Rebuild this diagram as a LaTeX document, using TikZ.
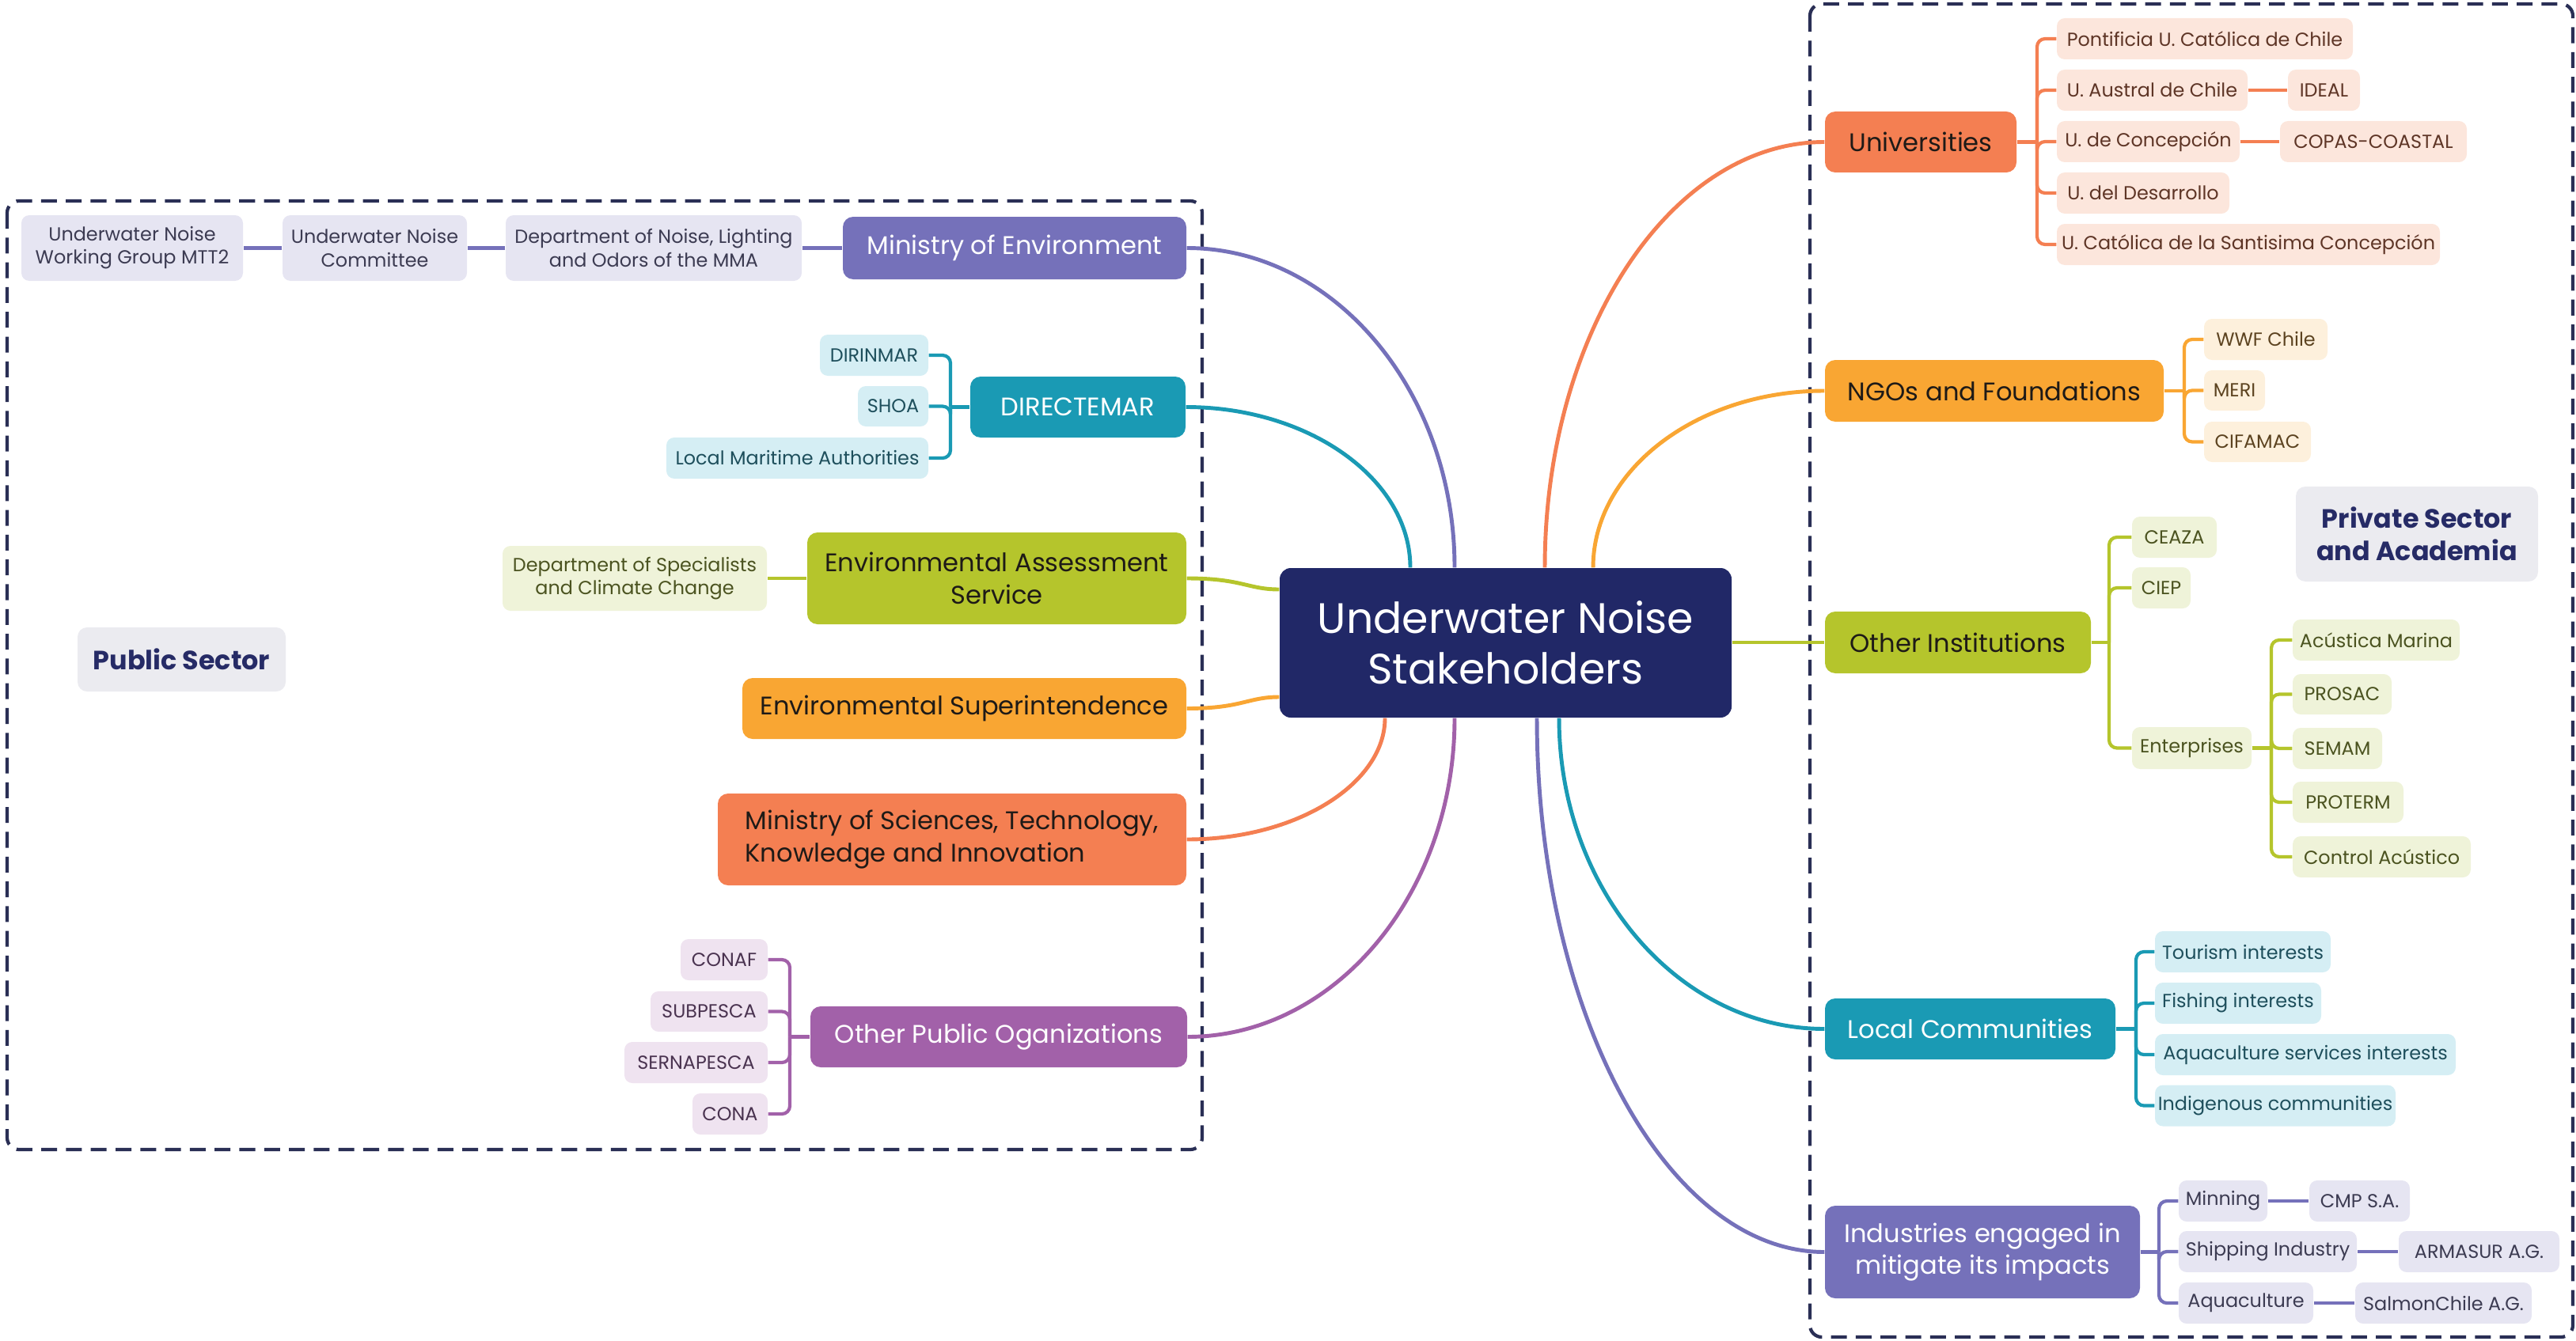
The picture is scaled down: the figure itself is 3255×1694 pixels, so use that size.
\documentclass[tikz,border=0pt]{standalone}
\usepackage{fontspec}
\setmainfont{Poppins}
\usetikzlibrary{calc}
\pgfdeclarelayer{bg}
\pgfsetlayers{bg,main}
\definecolor{navy}{HTML}{212867}
\definecolor{cPur}{HTML}{7571BA}
\definecolor{lPur}{HTML}{E6E5F2}
\definecolor{tPur}{HTML}{3C3B52}
\definecolor{cTeal}{HTML}{1A9AB4}
\definecolor{lTeal}{HTML}{D5EEF4}
\definecolor{tTeal}{HTML}{1E4F5C}
\definecolor{cGrn}{HTML}{B5C52C}
\definecolor{lGrn}{HTML}{EFF3D9}
\definecolor{tGrn}{HTML}{4B5320}
\definecolor{cOra}{HTML}{F9A633}
\definecolor{lOra}{HTML}{FDF0DC}
\definecolor{tOra}{HTML}{5C4320}
\definecolor{cRed}{HTML}{F47F52}
\definecolor{lRed}{HTML}{FCE6DC}
\definecolor{tRed}{HTML}{5E3526}
\definecolor{cMag}{HTML}{A261A9}
\definecolor{lMag}{HTML}{EFE3F0}
\definecolor{tMag}{HTML}{4A3350}
\definecolor{tagbg}{HTML}{EBEBF0}
\definecolor{tagtx}{HTML}{262B66}
\definecolor{dark}{HTML}{1E1A17}
\definecolor{dash}{HTML}{2A2F55}
\begin{document}
\begin{tikzpicture}[x=0.01cm,y=-0.01cm,
  sz/.style 2 args={minimum width=#1*0.01cm,minimum height=#2*0.01cm},
  boxbase/.style={rectangle,inner sep=0pt,align=center},
  topic/.style={boxbase,rounded corners=0.13cm,font=\fontsize{9.15}{11.5}\selectfont},
  leaf/.style={boxbase,rounded corners=0.1cm,font=\fontsize{6.8}{8.3}\selectfont},
  leafP/.style={leaf,fill=lPur,text=tPur},
  leafT/.style={leaf,fill=lTeal,text=tTeal},
  leafG/.style={leaf,fill=lGrn,text=tGrn},
  leafO/.style={leaf,fill=lOra,text=tOra},
  leafR/.style={leaf,fill=lRed,text=tRed},
  leafM/.style={leaf,fill=lMag,text=tMag},
  tag/.style={boxbase,rounded corners=0.12cm,fill=tagbg,text=tagtx,font=\fontsize{9.5}{11.7}\selectfont\bfseries},
  curve/.style={line width=1.4pt},
  link/.style={line width=1.2pt},
  brk/.style={line width=1.2pt,rounded corners=0.1cm},
  region/.style={draw=dash,line width=1.2pt,dash pattern=on 5.7pt off 3.2pt,rounded corners=0.15cm}
]
\useasboundingbox (0,0) rectangle (3255,1694);

% central node
\node[boxbase,rounded corners=0.14cm,fill=navy,text=white,sz={571}{189},font=\fontsize{15.3}{18.2}\selectfont] (ctr) at (1902.5,812.5) {Underwater Noise\\Stakeholders};

% ---------- Public sector ----------
\node[topic,fill=cPur,text=white,sz={434}{79}] (menv) at (1282,313.5) {Ministry of Environment};
\node[leafP,sz={374}{83}] (dept) at (826,313.5) {Department of Noise, Lighting\\and Odors of the MMA};
\node[leafP,sz={233}{83}] (comm) at (473.5,313.5) {Underwater Noise\\Committee};
\node[leafP,sz={280}{83}] (wg) at (167,313.5) {Underwater Noise\\Working Group MTT2};

\node[topic,fill=cTeal,text=white,sz={272}{77}] (dir) at (1362,514.5) {DIRECTEMAR};
\node[leafT,sz={137}{52}] (dirin) at (1104.5,449) {DIRINMAR};
\node[leafT,sz={89}{51}] (shoa) at (1128.5,513.5) {SHOA};
\node[leafT,sz={331}{52}] (lma) at (1007.5,579) {Local Maritime Authorities};

\node[topic,fill=cGrn,text=dark,sz={479}{116}] (easv) at (1259.5,731) {Environmental Assessment\\Service};
\node[leafG,sz={334}{82}] (dsc) at (802,731) {Department of Specialists\\and Climate Change};

\node[topic,fill=cOra,text=dark,sz={561}{77}] (esup) at (1218.5,895.5) {Environmental Superintendence};

\node[topic,fill=cRed,text=dark,sz={592}{116},align=left] (msci) at (1203,1061) {Ministry of Sciences, Technology,\\Knowledge and Innovation};

\node[topic,fill=cMag,text=white,sz={476}{77}] (opo) at (1262,1310.5) {Other Public Oganizations};
\node[leafM,sz={110}{52}] (conaf) at (915,1213) {CONAF};
\node[leafM,sz={148}{51}] (subp) at (896,1278.5) {SUBPESCA};
\node[leafM,sz={181}{52}] (sern) at (879.5,1343) {SERNAPESCA};
\node[leafM,sz={95}{52}] (cona) at (922.5,1408) {CONA};

\node[tag,sz={263}{81}] (pub) at (229.5,833.5) {Public Sector};

% ---------- Private sector and academia ----------
\node[topic,fill=cRed,text=dark,sz={242}{77}] (univ) at (2427,179.5) {Universities};
\node[leafR,sz={374}{52}] (puc) at (2786,49) {Pontificia U. Católica de Chile};
\node[leafR,sz={241}{52}] (uac) at (2719.5,114) {U. Austral de Chile};
\node[leafR,sz={91}{52}] (ideal) at (2936.5,114) {IDEAL};
\node[leafR,sz={231}{52}] (udec) at (2714.5,179) {U. de Concepción};
\node[leafR,sz={236}{52}] (copas) at (2999,179) {COPAS-COASTAL};
\node[leafR,sz={218}{52}] (udd) at (2708,244) {U. del Desarrollo};
\node[leafR,sz={484}{52}] (ucsc) at (2841,309) {U. Católica de la Santisima Concepción};

\node[topic,fill=cOra,text=dark,sz={428}{78}] (ngo) at (2520,494) {NGOs and Foundations};
\node[leafO,sz={156}{52}] (wwf) at (2863,429) {WWF Chile};
\node[leafO,sz={77}{51}] (meri) at (2823.5,493.5) {MERI};
\node[leafO,sz={135}{51}] (cifa) at (2852.5,558.5) {CIFAMAC};

\node[tag,sz={306}{120}] (priv) at (3054,675) {Private Sector\\and Academia};

\node[topic,fill=cGrn,text=dark,sz={336}{78}] (oth) at (2474,812) {Other Institutions};
\node[leafG,sz={107}{52}] (ceaza) at (2747.5,679) {CEAZA};
\node[leafG,sz={74}{52}] (ciep) at (2731,743) {CIEP};
\node[leafG,sz={151}{53}] (ent) at (2769.5,945.5) {Enterprises};
\node[leafG,sz={211}{52}] (acm) at (3002.5,809) {Acústica Marina};
\node[leafG,sz={125}{51}] (prosac) at (2959.5,877.5) {PROSAC};
\node[leafG,sz={113}{52}] (semam) at (2953.5,946) {SEMAM};
\node[leafG,sz={140}{52}] (proterm) at (2967,1014) {PROTERM};
\node[leafG,sz={225}{52}] (ctrl) at (3009.5,1083) {Control Acústico};

\node[topic,fill=cTeal,text=white,sz={367}{77}] (loc) at (2489.5,1300.5) {Local Communities};
\node[leafT,sz={222}{52}] (tour) at (2834,1203) {Tourism interests};
\node[leafT,sz={210}{52}] (fish) at (2828,1268) {Fishing interests};
\node[leafT,sz={380}{52}] (aqs) at (2913,1333) {Aquaculture services interests};
\node[leafT,sz={304}{52}] (indg) at (2875,1397.5) {Indigenous communities};

\node[topic,fill=cPur,text=white,sz={398}{117}] (ind) at (2505,1582.5) {Industries engaged in\\mitigate its impacts};
\node[leafP,sz={112}{52}] (min) at (2809,1518) {Minning};
\node[leafP,sz={127}{52}] (cmp) at (2981.5,1518) {CMP S.A.};
\node[leafP,sz={225}{52}] (ship) at (2865.5,1582) {Shipping Industry};
\node[leafP,sz={203}{52}] (arma) at (3132.5,1582) {ARMASUR A.G.};
\node[leafP,sz={170}{52}] (aqu) at (2838,1647) {Aquaculture};
\node[leafP,sz={223}{52}] (salm) at (3087.5,1647) {SalmonChile A.G.};

% bracket junctions
\coordinate (kD) at (1201,0 |- dir.west);
\coordinate (kO) at (998,0 |- opo.west);
\coordinate (kU) at (2574,0 |- univ.east);
\coordinate (kN) at (2760,0 |- ngo.east);
\coordinate (kI) at (2665,0 |- oth.east);
\coordinate (kE) at (2870,0 |- ent.east);
\coordinate (kL) at (2699,0 |- loc.east);
\coordinate (kX) at (2728,0 |- ind.east);

\begin{pgfonlayer}{bg}
% region frames
\draw[region] (9,254) rectangle (1519,1453);
\draw[region] (2287,5) rectangle (3251,1690);

% main curves, left
\draw[curve,cPur] (menv.east) .. controls +(186,0) and +(0,-223) .. (1838,0 |- ctr.north);
\draw[curve,cTeal] (dir.east) .. controls +(155,0) and +(0,-112) .. (1782,0 |- ctr.north);
\draw[curve,cGrn] (easv.east) .. controls +(70,0) and +(-40,0) .. (ctr.west |- 0,745);
\draw[curve,cOra] (esup.east) .. controls +(70,0) and +(-40,0) .. (ctr.west |- 0,881);
\draw[curve,cRed] (msci.east) .. controls +(140,0) and +(0,82) .. (1750,0 |- ctr.south);
\draw[curve,cMag] (opo.east) .. controls +(186,0) and +(0,222) .. (1838,0 |- ctr.south);
% main curves, right
\draw[curve,cRed] (1952,0 |- ctr.north) .. controls +(0,-296) and +(-195,0) .. (univ.west);
\draw[curve,cOra] (2013,0 |- ctr.north) .. controls +(0,-123) and +(-161,0) .. (ngo.west);
\draw[curve,cGrn] (ctr.east |- oth.west) -- (oth.west);
\draw[curve,cTeal] (1970,0 |- ctr.south) .. controls +(0,216) and +(-185,0) .. (loc.west);
\draw[curve,cPur] (1942,0 |- ctr.south) .. controls +(0,371) and +(-200,0) .. (ind.west);

% chains
\draw[link,cPur] (menv.west) -- (dept.east);
\draw[link,cPur] (dept.west) -- (comm.east);
\draw[link,cPur] (comm.west) -- (wg.east);
\draw[link,cGrn] (easv.west) -- (dsc.east);

% DIRECTEMAR
\draw[link,cTeal] (dir.west) -- (kD);
\draw[brk,cTeal] (kD) |- (dirin.east);
\draw[brk,cTeal] (kD) |- (shoa.east);
\draw[brk,cTeal] (kD) |- (lma.east);
% Other public
\draw[link,cMag] (opo.west) -- (kO);
\draw[brk,cMag] (kO) |- (conaf.east);
\draw[brk,cMag] (kO) |- (subp.east);
\draw[brk,cMag] (kO) |- (sern.east);
\draw[brk,cMag] (kO) |- (cona.east);
% Universities
\draw[link,cRed] (univ.east) -- (kU);
\draw[brk,cRed] (kU) |- (puc.west);
\draw[brk,cRed] (kU) |- (uac.west);
\draw[brk,cRed] (kU) |- (udec.west);
\draw[brk,cRed] (kU) |- (udd.west);
\draw[brk,cRed] (kU) |- (ucsc.west);
\draw[link,cRed] (uac.east) -- (ideal.west);
\draw[link,cRed] (udec.east) -- (copas.west);
% NGOs
\draw[link,cOra] (ngo.east) -- (kN);
\draw[brk,cOra] (kN) |- (wwf.west);
\draw[brk,cOra] (kN) |- (meri.west);
\draw[brk,cOra] (kN) |- (cifa.west);
% Other institutions
\draw[link,cGrn] (oth.east) -- (kI);
\draw[brk,cGrn] (kI) |- (ceaza.west);
\draw[brk,cGrn] (kI) |- (ciep.west);
\draw[brk,cGrn] (kI) |- (ent.west);
\draw[link,cGrn] (ent.east) -- (kE);
\draw[brk,cGrn] (kE) |- (acm.west);
\draw[brk,cGrn] (kE) |- (prosac.west);
\draw[brk,cGrn] (kE) |- (semam.west);
\draw[brk,cGrn] (kE) |- (proterm.west);
\draw[brk,cGrn] (kE) |- (ctrl.west);
% Local communities
\draw[link,cTeal] (loc.east) -- (kL);
\draw[brk,cTeal] (kL) |- (tour.west);
\draw[brk,cTeal] (kL) |- (fish.west);
\draw[brk,cTeal] (kL) |- (aqs.west);
\draw[brk,cTeal] (kL) |- (indg.west);
% Industries
\draw[link,cPur] (ind.east) -- (kX);
\draw[brk,cPur] (kX) |- (min.west);
\draw[brk,cPur] (kX) |- (ship.west);
\draw[brk,cPur] (kX) |- (aqu.west);
\draw[link,cPur] (min.east) -- (cmp.west);
\draw[link,cPur] (ship.east) -- (arma.west);
\draw[link,cPur] (aqu.east) -- (salm.west);
\end{pgfonlayer}
\end{tikzpicture}
\end{document}
